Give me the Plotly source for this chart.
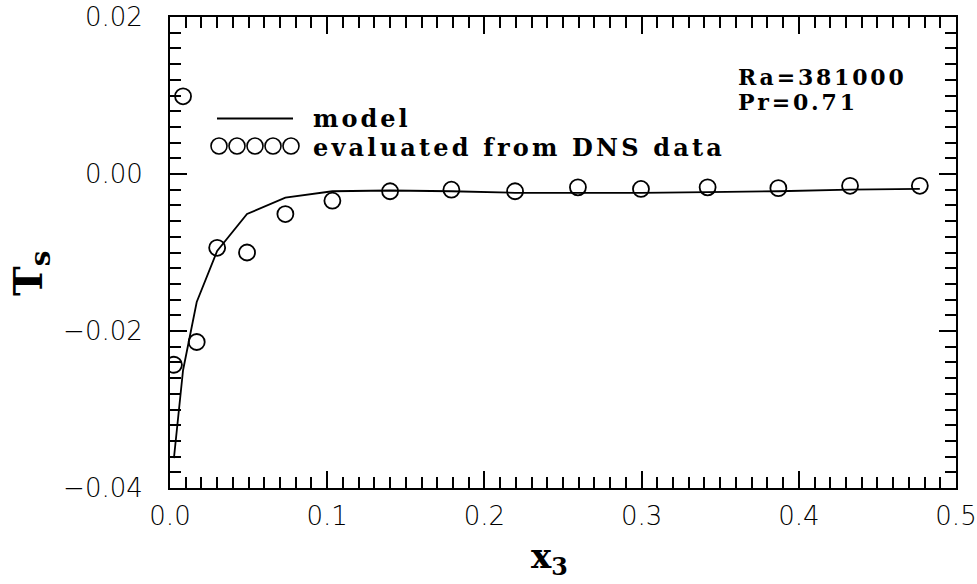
import plotly.graph_objects as go

# ---- data ----
x3 = [0.0025, 0.0083, 0.017, 0.030, 0.049, 0.0734, 0.1033, 0.140, 0.179,
      0.2195, 0.2595, 0.2996, 0.342, 0.387, 0.4326, 0.477]
ts_model = [-0.0362, -0.0250, -0.0163, -0.0098, -0.0051, -0.0030, -0.0022, -0.0021,
            -0.0022, -0.0024, -0.0024, -0.0024, -0.0023, -0.0022, -0.0020, -0.0019]
ts_dns = [-0.0243, 0.0099, -0.0214, -0.0094, -0.0100, -0.0051, -0.0034, -0.0022,
          -0.0020, -0.0022, -0.0017, -0.0019, -0.0017, -0.0018, -0.0015, -0.0015]

legend_labels = ["model", "evaluated from DNS data"]
params = ["Ra=381000", "Pr=0.71"]

W, H = 977, 584
L, R, T, B = 170, 21, 17, 96
PW, PH = W - L - R, H - T - B

def px(x):
    return (x - L) / PW

def py(y):
    return (H - B - y) / PH

SERIF = "DejaVu Serif"
SANS = "DejaVu Sans"

fig = go.Figure()
fig.add_trace(go.Scatter(x=x3, y=ts_model, mode="lines",
                         line=dict(color="black", width=1.8), showlegend=False))
fig.add_trace(go.Scatter(x=x3, y=ts_dns, mode="markers",
                         marker=dict(symbol="circle-open", size=16,
                                     color="black", line=dict(width=1.8)),
                         showlegend=False))

axis_common = dict(
    showgrid=False, zeroline=False, showline=True, linecolor="black", linewidth=2,
    mirror="ticks", ticks="inside", tickcolor="black", tickwidth=1.8, ticklen=17,
    tickfont=dict(family=SANS, size=26, color="black", weight=300), automargin=False,
)
fig.update_xaxes(range=[0, 0.5], dtick=0.1, tick0=0, tickformat=".1f",
                 ticklabelstandoff=4,
                 minor=dict(dtick=0.01, ticks="inside", ticklen=11,
                            tickcolor="black", tickwidth=1.5),
                 **axis_common)
fig.update_yaxes(range=[-0.04, 0.02], dtick=0.02, tick0=0, tickformat=".2f",
                 ticklabelstandoff=20,
                 minor=dict(dtick=0.002, ticks="inside", ticklen=11,
                            tickcolor="black", tickwidth=1.5),
                 **axis_common)

shapes = []
# legend sample line
shapes.append(dict(type="line", xref="paper", yref="paper",
                   x0=px(217), x1=px(293), y0=py(118.5), y1=py(118.5),
                   line=dict(color="black", width=1.8)))
# legend sample circles
for cx in [219, 237, 255, 273, 291]:
    shapes.append(dict(type="circle", xref="paper", yref="paper",
                       x0=px(cx - 8), x1=px(cx + 8), y0=py(146 + 8), y1=py(146 - 8),
                       line=dict(color="black", width=1.6)))

def txt(s, ls):
    return f'<span style="letter-spacing:{ls}px"><b>{s}</b></span>'

ann = []
ann.append(dict(text=txt(legend_labels[0], 3), x=px(311), y=py(119), xref="paper", yref="paper",
                xanchor="left", yanchor="middle", showarrow=False,
                font=dict(family=SERIF, size=24, color="black")))
ann.append(dict(text=txt(legend_labels[1], 3.2), x=px(311), y=py(147), xref="paper", yref="paper",
                xanchor="left", yanchor="middle", showarrow=False,
                font=dict(family=SERIF, size=24, color="black")))
ann.append(dict(text=txt(params[0], 2.8), x=px(736), y=py(77), xref="paper", yref="paper",
                xanchor="left", yanchor="middle", showarrow=False,
                font=dict(family=SERIF, size=22, color="black")))
ann.append(dict(text=txt(params[1], 2.8), x=px(736), y=py(102), xref="paper", yref="paper",
                xanchor="left", yanchor="middle", showarrow=False,
                font=dict(family=SERIF, size=22, color="black")))
# axis titles
ann.append(dict(text="<b>x<sub>3</sub></b>", x=px(549), y=py(558), xref="paper", yref="paper",
                xanchor="center", yanchor="middle", showarrow=False,
                font=dict(family=SERIF, size=34, color="black")))
ann.append(dict(text="<b>T<sub>s</sub></b>", x=px(30), y=py(273), xref="paper", yref="paper",
                xanchor="center", yanchor="middle", showarrow=False, textangle=-90,
                font=dict(family=SERIF, size=40, color="black")))

fig.update_layout(
    width=W, height=H,
    margin=dict(l=L, r=R, t=T, b=B),
    plot_bgcolor="white", paper_bgcolor="white",
    shapes=shapes, annotations=ann, showlegend=False,
)
fig.write_html("out.html", config={"displayModeBar": False},
               post_script="document.body.style.margin='0';"
                           "document.body.style.overflow='hidden';")
